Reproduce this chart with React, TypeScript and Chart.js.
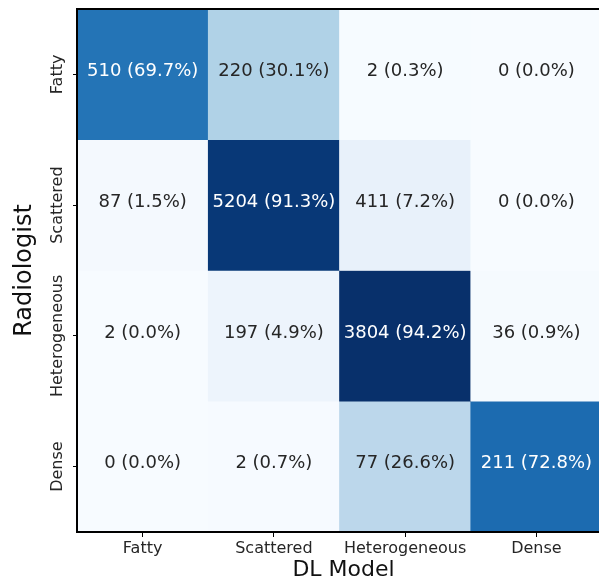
import React, { useEffect, useRef } from 'react';
import { Chart, registerables } from 'chart.js';

Chart.register(...registerables);

// DL model predictions (columns) and radiologist reads (rows)
const modelLabels = ['Fatty', 'Scattered', 'Heterogeneous', 'Dense'];
const radiologistLabels = ['Fatty', 'Scattered', 'Heterogeneous', 'Dense'];

const fattyCounts = [510, 220, 2, 0];
const scatteredCounts = [87, 5204, 411, 0];
const heterogeneousCounts = [2, 197, 3804, 36];
const denseCounts = [0, 2, 77, 211];

const fattyPct = [69.7, 30.1, 0.3, 0.0];
const scatteredPct = [1.5, 91.3, 7.2, 0.0];
const heterogeneousPct = [0.0, 4.9, 94.2, 0.9];
const densePct = [0.0, 0.7, 26.6, 72.8];

const counts = [fattyCounts, scatteredCounts, heterogeneousCounts, denseCounts];
const pcts = [fattyPct, scatteredPct, heterogeneousPct, densePct];

const FONT = "'DejaVu Sans', sans-serif";
const TEXT_DARK = '#262626';

// matplotlib "Blues"
const BLUES = ['#f7fbff', '#deebf7', '#c6dbef', '#9ecae1', '#6baed6', '#4292c6', '#2171b5', '#08519c', '#08306b'];

const hexToRgb = (h: string) => [1, 3, 5].map(i => parseInt(h.slice(i, i + 2), 16));

const blues = (t: number) => {
    const v = Math.max(0, Math.min(1, t)) * (BLUES.length - 1);
    const i = Math.min(Math.floor(v), BLUES.length - 2);
    const f = v - i;
    const a = hexToRgb(BLUES[i]);
    const b = hexToRgb(BLUES[i + 1]);
    const c = a.map((x, k) => Math.round(x + (b[k] - x) * f));
    return `rgb(${c[0]}, ${c[1]}, ${c[2]})`;
};

const maxPct = Math.max(...pcts.flat());

const matrixText = {
    id: 'matrixText',
    afterDatasetsDraw(chart: any) {
        const { ctx, chartArea, scales } = chart;
        const x = scales.x;
        const y = scales.y;
        ctx.save();

        // cell values
        ctx.font = `18px ${FONT}`;
        ctx.textAlign = 'center';
        ctx.textBaseline = 'middle';
        counts.forEach((row, r) => {
            row.forEach((n, c) => {
                const p = pcts[r][c];
                ctx.fillStyle = p > maxPct / 2 ? '#ffffff' : TEXT_DARK;
                ctx.fillText(`${n} (${p.toFixed(1)}%)`, x.getPixelForValue(c), y.getPixelForValue(r + 0.5) - 3);
            });
        });

        // frame
        ctx.strokeStyle = '#000';
        ctx.lineWidth = 2;
        ctx.strokeRect(chartArea.left, chartArea.top, chartArea.right - chartArea.left, chartArea.bottom - chartArea.top);

        // y tick labels, rotated
        ctx.font = `16px ${FONT}`;
        ctx.fillStyle = TEXT_DARK;
        radiologistLabels.forEach((lab, r) => {
            ctx.save();
            ctx.translate(chartArea.left - 19, y.getPixelForValue(r + 0.5));
            ctx.rotate(-Math.PI / 2);
            ctx.fillText(lab, 0, 0);
            ctx.restore();
        });

        // axis titles
        ctx.fillStyle = '#111';
        ctx.font = `24px ${FONT}`;
        ctx.save();
        ctx.translate(25, (chartArea.top + chartArea.bottom) / 2);
        ctx.rotate(-Math.PI / 2);
        ctx.fillText('Radiologist', 0, 0);
        ctx.restore();

        ctx.font = `22px ${FONT}`;
        ctx.textBaseline = 'alphabetic';
        ctx.fillText('DL Model', (chartArea.left + chartArea.right) / 2 + 4, 576);

        ctx.restore();
    }
};

const ConfusionMatrix: React.FC = () => {
    const chartRef = useRef<HTMLCanvasElement | null>(null);
    const chartInstanceRef = useRef<Chart | null>(null);

    useEffect(() => {
        if (!chartRef.current) return;
        const ctx = chartRef.current.getContext('2d');
        if (!ctx) return;

        chartInstanceRef.current = new Chart(ctx, {
            type: 'bar',
            data: {
                labels: modelLabels,
                datasets: radiologistLabels.map((lab, r) => ({
                    label: lab,
                    data: modelLabels.map(() => [r, r + 1]),
                    backgroundColor: pcts[r].map(p => blues(p / maxPct)),
                    borderWidth: 0,
                    barPercentage: 1,
                    categoryPercentage: 1,
                    grouped: false,
                })),
            },
            options: {
                responsive: false,
                animation: false,
                layout: { padding: { top: 9, right: 4, left: 0, bottom: 0 } },
                plugins: {
                    legend: { display: false },
                    tooltip: { enabled: false },
                },
                scales: {
                    x: {
                        type: 'category',
                        offset: true,
                        grid: { display: true, drawOnChartArea: false, drawTicks: true, tickLength: 5, color: '#000', offset: false },
                        border: { display: true, color: '#000', width: 2 },
                        ticks: { font: { family: FONT, size: 16 }, color: TEXT_DARK, padding: 2, maxRotation: 0, minRotation: 0 },
                        afterFit: (s: any) => { s.height = 53; },
                    },
                    y: {
                        type: 'linear',
                        min: 0,
                        max: 4,
                        reverse: true,
                        afterBuildTicks: (s: any) => { s.ticks = radiologistLabels.map((_, i) => ({ value: i + 0.5 })); },
                        grid: { display: true, drawOnChartArea: false, drawTicks: true, tickLength: 4, color: '#000' },
                        border: { display: true, color: '#000', width: 2 },
                        ticks: { display: false },
                        afterFit: (s: any) => { s.width = 77; },
                    },
                },
            },
            plugins: [matrixText],
        } as any);

        return () => {
            if (chartInstanceRef.current) {
                chartInstanceRef.current.destroy();
                chartInstanceRef.current = null;
            }
        };
    }, []);

    return (
        <div style={{ position: 'fixed', left: 0, top: 0, width: 599, height: 585, overflow: 'hidden', background: '#fff' }}>
            <canvas ref={chartRef} width="606" height="585" style={{ width: 606, height: 585, display: 'block' }}></canvas>
        </div>
    );
};

export default function App() {
    return <ConfusionMatrix />;
}
